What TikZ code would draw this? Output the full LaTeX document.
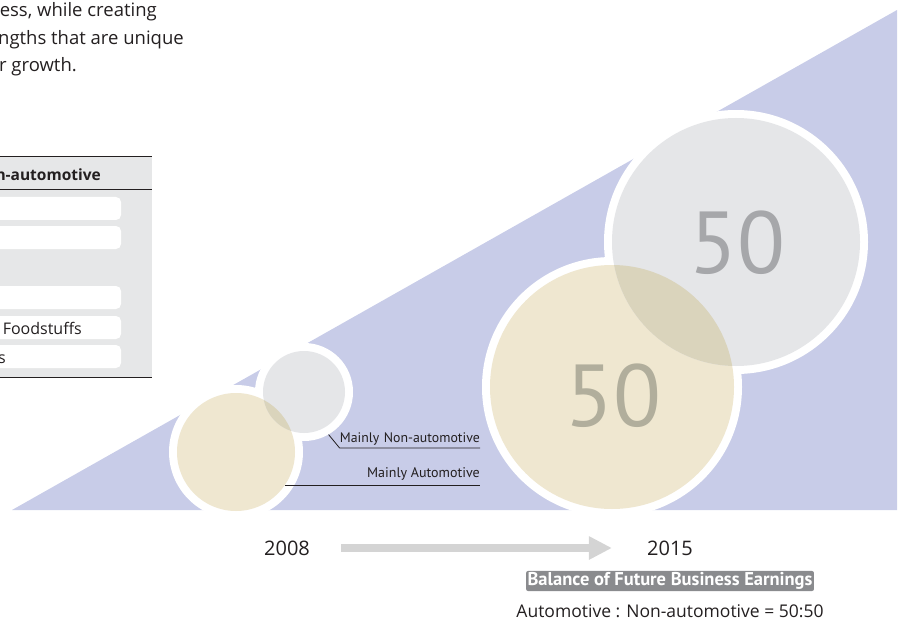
\documentclass[tikz,border=0pt]{standalone}
\usepackage{fontspec}
\setmainfont{Open Sans}
\newfontfamily\condfont{PT Sans}
\usetikzlibrary{positioning,arrows.meta}
\definecolor{triblue}{HTML}{C8CCE8}
\definecolor{autoyellow}{HTML}{EFE7D0}
\definecolor{nonautogray}{HTML}{E5E6E8}
\definecolor{overlapbeige}{HTML}{DAD4BC}
\definecolor{tablegray}{HTML}{E6E7E8}
\definecolor{arrowgray}{HTML}{D4D4D4}
\definecolor{tagbg}{HTML}{8A8B8E}
\definecolor{inkgray}{HTML}{231F20}
\definecolor{numgray}{HTML}{A6A7AA}
\definecolor{numbeige}{HTML}{B1AE9C}

\begin{document}
\begin{tikzpicture}[x=1pt, y=-1pt,
  ring/.style={circle, fill=white, inner sep=0pt},
  disc/.style={circle, inner sep=0pt},
  rowbox/.style={fill=white, rounded corners=5pt},
  leader/.style={draw=inkgray, line width=0.8pt},
  lbl/.style={font=\condfont\fontsize{14}{16}\selectfont, text=inkgray, inner sep=0pt, anchor=south east, align=right},
  big50/.style={font=\condfont\fontsize{88}{88}\selectfont, inner sep=0pt},
  body/.style={font=\fontsize{18.5}{22}\selectfont, text=inkgray, inner sep=0pt, anchor=base east},
  rowtext/.style={font=\fontsize{16}{18}\selectfont, text=inkgray, inner sep=0pt, anchor=base east},
  year/.style={font=\fontsize{20}{22}\selectfont, text=inkgray, inner sep=0pt},
  timearrow/.style={arrowgray, line width=8pt, -{Triangle[length=23pt, width=22pt]}}
]
\useasboundingbox (0,0) rectangle (903,623);
\clip (0,0) rectangle (903,623);

% Intro text, cut by the left edge
\node[body] (introa) at (157,17) {ess, while creating};
\node[body] (introb) at (184,45) {ngths that are unique};
\node[body] (introc) at (77,72) {r growth.};

% Business table
\fill[tablegray] (0,157) rectangle (152,377);
\draw[inkgray, line width=1pt] (0,157) -- (152,157);
\draw[inkgray, line width=0.8pt] (0,189) -- (152,189);
\draw[inkgray, line width=1pt] (0,377) -- (152,377);
\node[anchor=base east, inner sep=0pt, font=\fontsize{15.5}{18}\selectfont\bfseries, text=inkgray] (head) at (101,181) {n-automotive};
\foreach \y in {197,226,286,316,345}
  \fill[rowbox] (-10,\y) rectangle (121,\y+23);
\node[rowtext] (rowfood) at (82,334) {\& Foodstuffs};
\node[rowtext] (rowlast) at (6,363) {s};

% Triangle
\fill[triblue] (12,510) -- (897,10) -- (897,510) -- cycle;

% White rings
\node[ring, minimum size=134pt] (autosmallring) at (236,452) {};
\node[ring, minimum size=98pt] (nonautosmallring) at (304,392) {};
\node[ring, minimum size=260pt] (autobigring) at (612,387) {};
\node[ring, minimum size=264pt] (nonautobigring) at (736,242) {};

% Discs
\node[disc, fill=autoyellow, minimum size=118pt] (autosmall) at (236,452) {};
\node[disc, fill=nonautogray, minimum size=82pt] (nonautosmall) at (304,392) {};
\node[disc, fill=autoyellow, minimum size=244pt] (autobig) at (612,387) {};
\node[disc, fill=nonautogray, minimum size=248pt] (nonautobig) at (736,242) {};

% Overlaps
\begin{scope}
  \clip (autosmall.center) circle (59pt);
  \fill[overlapbeige] (nonautosmall.center) circle (41pt);
\end{scope}
\begin{scope}
  \clip (autobig.center) circle (122pt);
  \fill[overlapbeige] (nonautobig.center) circle (124pt);
\end{scope}

\node[big50, text=numbeige] (autonum) at (613,396) {50};
\node[big50, text=numgray] (nonautonum) at (737,243) {50};

% Labels
\node[lbl, text width=140pt, font=\condfont\fontsize{13.8}{16}\selectfont] (nonautolbl) at (480,446) {Mainly Non-automotive};
\node[lbl] (autolbl) at (480,481) {Mainly Automotive};
\draw[leader] (nonautosmallring.-60) -- (nonautolbl.south west |- 0,448) -- (nonautolbl.south east |- 0,448);
\draw[leader] (autosmall.-34) -- (autosmall.-34 -| autolbl.south east);

% Timeline
\node[year] (y2008) at (287,548) {2008};
\node[year] (y2015) at (670,548) {2015};
\draw[timearrow] ([xshift=31pt]y2008.east) -- ([xshift=-35pt]y2015.west);

% Earnings balance
\node[fill=tagbg, text=white, rounded corners=2pt, inner sep=1.5pt, font=\condfont\fontsize{18.5}{20}\selectfont\bfseries] (tag) at (670,581) {Balance of Future Business Earnings};
\node[inner sep=0pt, font=\fontsize{17.5}{20}\selectfont, text=inkgray] (ratio) at (670,611) {Automotive : Non-automotive = 50:50};
\end{tikzpicture}
\end{document}
